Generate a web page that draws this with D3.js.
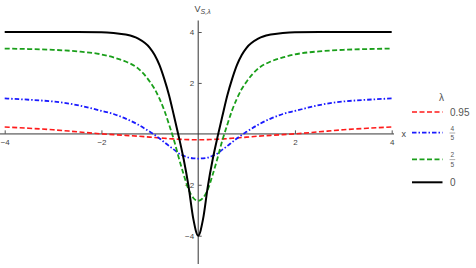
<!DOCTYPE html>
<html>
<head>
<meta charset="utf-8">
<script src="https://cdn.jsdelivr.net/npm/d3@7/dist/d3.min.js"></script>
<style>
  body { margin: 0; background: #fff; }
  svg { display: block; font-family: "Liberation Sans", "DejaVu Sans", sans-serif; }
</style>
</head>
<body>
<div class="canvas"></div>
<script>
// sample positions along x
var xs = [-4, -3.5, -3, -2.5, -2, -1.75, -1.5, -1.25, -1, -0.9, -0.8, -0.7, -0.6, -0.5, -0.4, -0.3, -0.2, -0.1, 0,
  0.1, 0.2, 0.3, 0.4, 0.5, 0.6, 0.7, 0.8, 0.9, 1, 1.25, 1.5, 1.75, 2, 2.5, 3, 3.5, 4];

// V_{S,lambda}
var lam095 = [0.27, 0.22, 0.16, 0.08, 0.0, -0.03, -0.06, -0.09, -0.13, -0.145, -0.16, -0.175, -0.19, -0.2, -0.21, -0.22, -0.225, -0.23, -0.23,
  -0.23, -0.225, -0.22, -0.21, -0.2, -0.19, -0.175, -0.16, -0.145, -0.13, -0.09, -0.06, -0.03, 0.0, 0.08, 0.16, 0.22, 0.27];
var lam45 = [1.39, 1.34, 1.27, 1.13, 0.9, 0.78, 0.6, 0.37, 0.08, -0.04, -0.18, -0.33, -0.48, -0.62, -0.77, -0.86, -0.93, -0.96, -0.97,
  -0.96, -0.93, -0.86, -0.77, -0.62, -0.48, -0.33, -0.18, -0.04, 0.08, 0.37, 0.6, 0.78, 0.9, 1.13, 1.27, 1.34, 1.39];
var lam25 = [3.35, 3.33, 3.3, 3.24, 3.12, 3.0, 2.84, 2.58, 2.05, 1.76, 1.38, 0.92, 0.35, -0.25, -0.95, -1.6, -2.18, -2.52, -2.63,
  -2.52, -2.18, -1.6, -0.95, -0.25, 0.35, 0.92, 1.38, 1.76, 2.05, 2.58, 2.84, 3.0, 3.12, 3.24, 3.3, 3.33, 3.35];
var lam0 = [4.0, 4.0, 4.0, 4.0, 3.99, 3.96, 3.9, 3.75, 3.38, 3.1, 2.7, 2.15, 1.5, 0.7, -0.12, -1.0, -2.05, -3.35, -4.0,
  -3.35, -2.05, -1.0, -0.12, 0.7, 1.5, 2.15, 2.7, 3.1, 3.38, 3.75, 3.9, 3.96, 3.99, 4.0, 4.0, 4.0, 4.0];

var xTicks = [-4, -2, 2, 4];
var yTicks = [-4, -2, 2, 4];

var seriesNames = ["0.95", "4/5", "2/5", "0"];
var seriesValues = [lam095, lam45, lam25, lam0];
var seriesColors = ["#ff1a1a", "#1a1aff", "#1a9f1a", "#000000"];
var seriesDash = ["5,2.5", "4.5,2,1.5,2", "5,2.5", null];
var seriesWidth = [1.6, 1.8, 1.8, 2];

var width = 476, height = 268;

var svg = d3.select(".canvas").append("svg")
  .attr("width", width)
  .attr("height", height);

var x = d3.scaleLinear().domain([-4, 4]).range([4.7, 391.7]);
var y = d3.scaleLinear().domain([-4, 4]).range([235.7, 32]);

// axes
svg.append("line")
  .attr("x1", 0).attr("x2", 394)
  .attr("y1", y(0)).attr("y2", y(0))
  .attr("stroke", "#8c8c8c").attr("stroke-width", 1.6);

svg.append("line")
  .attr("x1", x(0)).attr("x2", x(0))
  .attr("y1", 20.5).attr("y2", 264)
  .attr("stroke", "#333").attr("stroke-width", 1);

var xAxis = svg.append("g")
  .attr("transform", "translate(0," + y(0) + ")")
  .call(d3.axisBottom(x).tickValues(xTicks).tickSizeInner(-3.5).tickSizeOuter(0).tickPadding(5));
xAxis.select(".domain").remove();

var yAxis = svg.append("g")
  .attr("transform", "translate(" + x(0) + ",0)")
  .call(d3.axisLeft(y).tickValues(yTicks).tickSizeInner(-3.5).tickSizeOuter(0).tickPadding(4));
yAxis.select(".domain").remove();

svg.selectAll(".tick line").attr("stroke", "#555");
svg.selectAll(".tick text")
  .attr("fill", "#444")
  .style("font-size", "8px")
  .style("font-family", "Liberation Sans, DejaVu Sans, sans-serif");

// axis labels
var yLab = svg.append("text")
  .attr("x", 194.5).attr("y", 11.5)
  .attr("fill", "#444")
  .style("font-size", "9px");
yLab.append("tspan").text("V");
yLab.append("tspan").attr("dy", 2.5).style("font-size", "7px").style("font-style", "italic").text("S,λ");

svg.append("text")
  .attr("x", 401.5).attr("y", 137)
  .attr("fill", "#444")
  .style("font-size", "9px")
  .text("x");

// curves
var line = d3.line()
  .x(function(d, i) { return x(xs[i]); })
  .y(function(d) { return y(d); })
  .curve(d3.curveMonotoneX);

svg.append("g").selectAll("path")
  .data(seriesValues)
  .enter()
  .append("path")
  .attr("fill", "none")
  .attr("stroke", function(d, i) { return seriesColors[i]; })
  .attr("stroke-width", function(d, i) { return seriesWidth[i]; })
  .attr("stroke-dasharray", function(d, i) { return seriesDash[i]; })
  .attr("d", line);

// legend
var legendRowY = [112, 132.7, 159.3, 182.3];

svg.append("text")
  .attr("x", 441.5).attr("y", 101)
  .attr("text-anchor", "middle")
  .attr("fill", "#555")
  .style("font-size", "10px")
  .text("λ");

var rows = svg.append("g").selectAll("g")
  .data(seriesNames)
  .enter()
  .append("g")
  .attr("transform", function(d, i) { return "translate(0," + legendRowY[i] + ")"; });

rows.append("line")
  .attr("x1", 412).attr("x2", 442.5)
  .attr("y1", 0).attr("y2", 0)
  .attr("stroke", function(d, i) { return seriesColors[i]; })
  .attr("stroke-width", function(d, i) { return seriesWidth[i]; })
  .attr("stroke-dasharray", function(d, i) { return seriesDash[i]; });

rows.each(function(d) {
  var g = d3.select(this);
  var parts = d.split("/");
  if (parts.length === 2) {
    g.append("text").attr("x", 452.3).attr("y", -2).attr("text-anchor", "middle")
      .attr("fill", "#555").style("font-size", "6.5px").text(parts[0]);
    g.append("line").attr("x1", 449.5).attr("x2", 455.2).attr("y1", 0.3).attr("y2", 0.3)
      .attr("stroke", "#777").attr("stroke-width", 0.6);
    g.append("text").attr("x", 452.3).attr("y", 7.4).attr("text-anchor", "middle")
      .attr("fill", "#555").style("font-size", "6.5px").text(parts[1]);
  } else {
    g.append("text").attr("x", 450).attr("y", 3.5)
      .attr("fill", "#555").style("font-size", "10px").text(d);
  }
});
</script>
</body>
</html>
